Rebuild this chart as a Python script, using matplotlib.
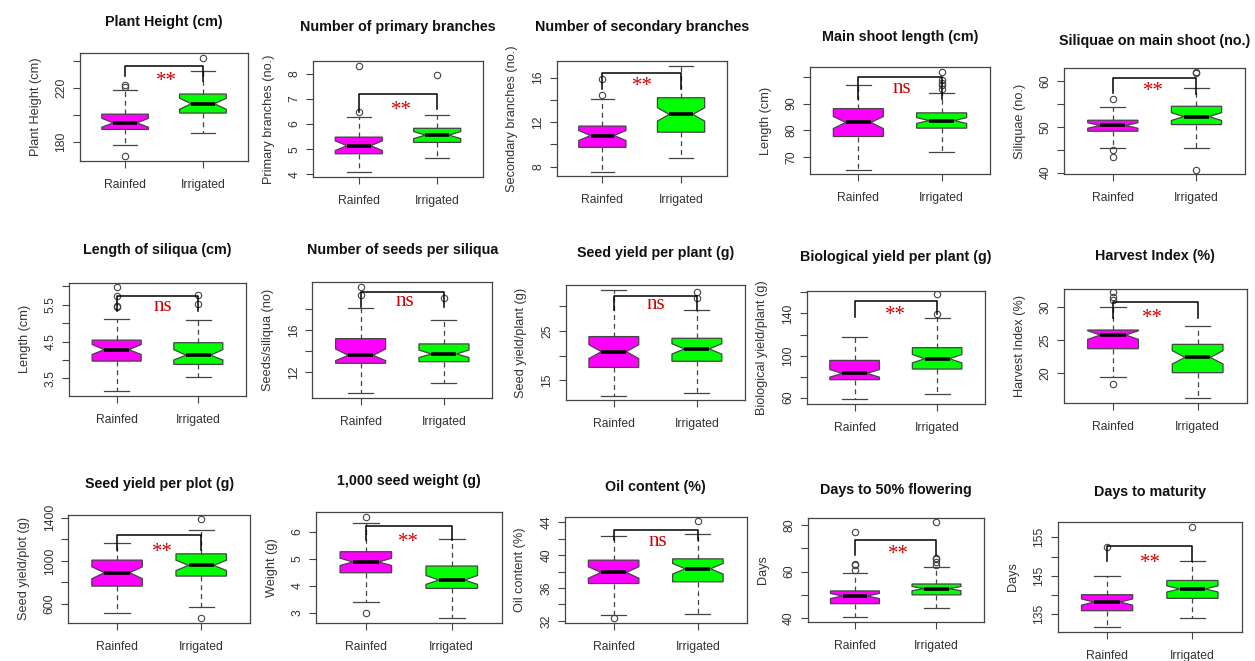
import matplotlib
matplotlib.use('Agg')
import matplotlib.pyplot as plt

plt.rcParams['font.family'] = ['Liberation Sans', 'DejaVu Sans']

W, H = 1255, 661
groups = ['Rainfed', 'Irrigated']
colors = ['#ff00ff', '#00ff00']

titles = ['Plant Height (cm)', 'Number of primary branches', 'Number of secondary branches',
          'Main shoot length (cm)', 'Siliquae on main shoot (no.)',
          'Length of siliqua (cm)', 'Number of seeds per siliqua', 'Seed yield per plant (g)',
          'Biological yield per plant (g)', 'Harvest Index (%)',
          'Seed yield per plot (g)', '1,000 seed weight (g)', 'Oil content (%)',
          'Days to 50% flowering', 'Days to maturity']
ylabels = ['Plant Height (cm)', 'Primary branches (no.)', 'Secondary branches (no.)',
           'Length (cm)', 'Siliquae (no.)',
           'Length (cm)', 'Seeds/siliqua (no)', 'Seed yield/plant (g)',
           'Biological yield/plant (g)', 'Harvest Index (%)',
           'Seed yield/plot (g)', 'Weight (g)', 'Oil content (%)', 'Days', 'Days']
signif = ['**', '**', '**', 'ns', '**',
          'ns', 'ns', 'ns', '**', '**',
          '**', '**', 'ns', '**', '**']

# (lower whisker, Q1, median, Q3, upper whisker)
rainfed_box = [(177.8, 189.4, 194.3, 200.7, 218.3), (4.08, 4.82, 5.14, 5.48, 6.29),
               (7.55, 9.74, 10.8, 11.65, 14.1), (65, 77.6, 82.9, 88.1, 97),
               (45.3, 49.05, 50.3, 51.45, 54.25),
               (3.15, 3.97, 4.28, 4.54, 5.11), (10.05, 12.85, 13.6, 15.18, 18.1),
               (11.9, 17.6, 20.8, 23.85, 33.3), (58.4, 77.1, 83.1, 95.4, 117.9),
               (19.5, 23.7, 25.75, 26.5, 30),
               (514, 766, 890, 1007, 1161), (3.4, 4.48, 4.88, 5.26, 6.31),
               (32.77, 36.55, 37.9, 39.4, 42.3), (40.3, 46.1, 49.4, 51.6, 59.3),
               (131.8, 135.95, 138.2, 140.1, 144.9)]
irrigated_box = [(186.9, 201.5, 208.4, 215.6, 232.8), (4.66, 5.27, 5.56, 5.83, 6.34),
                 (8.78, 11.1, 12.7, 14.2, 17.07), (71.9, 80.75, 83.6, 86.5, 93.9),
                 (45.3, 50.5, 52.25, 54.5, 58.5),
                 (3.54, 3.88, 4.13, 4.47, 5.08), (11.0, 13.0, 13.73, 14.68, 16.95),
                 (12.4, 18.85, 21.35, 23.5, 29.2), (63.2, 87.2, 97, 107.5, 135.3),
                 (16.25, 20.1, 22.4, 24.35, 27.1),
                 (572, 859, 958, 1065, 1284), (2.81, 3.9, 4.21, 4.73, 5.72),
                 (32.8, 36.76, 38.35, 39.56, 42.65), (44.05, 49.9, 52.6, 54.6, 61.9),
                 (134.05, 139.15, 141.6, 143.8, 148.85)]
# notch limits
rainfed_notch = [(191.0, 197.6), (4.95, 5.33), (10.35, 11.25), (80.6, 85.1), (49.7, 50.9),
                 (4.15, 4.42), (13.1, 14.2), (19.4, 22.2), (79.5, 86.7), (25.1, 26.4),
                 (835, 945), (4.75, 5.02), (37.2, 38.6), (48.3, 50.5), (137.4, 139.0)]
irrigated_notch = [(204.3, 212.5), (5.42, 5.70), (12.1, 13.3), (82.5, 84.7), (51.4, 53.1),
                   (4.0, 4.28), (13.4, 14.1), (20.3, 22.4), (93.0, 101.0), (21.4, 23.4),
                   (910, 1006), (4.05, 4.38), (37.7, 39.0), (51.7, 53.5), (140.8, 142.4)]
rainfed_out = [[169.4, 220.7, 222.5], [6.49, 8.3], [14.4, 15.9], [], [43.5, 44.9, 56.1],
               [5.45, 5.48, 5.75, 5.99], [19.27, 20.1], [], [], [18.4, 31.0, 31.5, 32.25],
               [], [2.98, 6.56], [32.3], [60.7, 62.75, 63.2, 77.2], [152.6]]
irrigated_out = [[242.5], [7.95], [], [95.6, 96.9, 97.9, 98.75, 102], [40.6, 61.7, 62.0],
                 [5.52, 5.76], [19.0], [31.75, 32.8], [139.4, 158.4], [],
                 [470, 1386], [], [44.2], [63.0, 64.3, 65.4, 65.9, 81.2], [157.7]]
# bracket: (left leg end, bar height, right leg end)
brackets = [(229, 236.3, 225.4), (6.49, 7.2, 6.58), (14.95, 16.44, 14.95), (91.6, 100, 91.6),
            (57.5, 60.7, 57.2),
            (5.33, 5.73, 5.33), (18.2, 19.6, 18.2), (29.2, 32.1, 29.2), (136.9, 152, 139.4),
            (28.35, 30.7, 28.25),
            (1105, 1244, 1105), (5.69, 6.22, 5.69), (41.8, 43.05, 41.8), (67.1, 73.6, 67.1),
            (148.9, 152.8, 148.9)]
sig_pos = [(1.53, 229), (1.55, 6.75), (1.51, 15.7), (1.52, 95.85), (1.49, 58.93),
           (1.57, 5.45), (1.53, 18.67), (1.50, 30.25), (1.49, 143.3), (1.47, 29.05),
           (1.54, 1128.5), (1.50, 5.82), (1.52, 41.65), (1.53, 69.86), (1.51, 149.7)]
yticks = [[180, 200, 220, 240], [4, 5, 6, 7, 8], [8, 10, 12, 14, 16], [70, 80, 90, 100],
          [40, 45, 50, 55, 60],
          [3.5, 4, 4.5, 5, 5.5, 6], [12, 14, 16, 18], [15, 20, 25, 30],
          [60, 80, 100, 120, 140, 160], [20, 25, 30],
          [600, 800, 1000, 1200, 1400], [3, 4, 5, 6], [32, 34, 36, 38, 40, 42, 44],
          [40, 50, 60, 70, 80], [135, 140, 145, 150, 155]]
ytick_labels = [['180', '', '220', ''], ['4', '5', '6', '7', '8'], ['8', '', '12', '', '16'],
                ['70', '80', '90', ''], ['40', '', '50', '', '60'],
                ['3.5', '', '4.5', '', '5.5', ''], ['12', '', '16', ''], ['15', '', '25', ''],
                ['60', '', '100', '', '140', ''], ['20', '25', '30'],
                ['600', '', '1000', '', '1400'], ['3', '4', '5', '6'],
                ['32', '', '36', '', '40', '', '44'], ['40', '', '60', '', '80'],
                ['135', '', '145', '', '155']]
ylims = [(166, 246), (3.91, 8.5), (7.19, 17.5), (63.5, 103.75), (39.7, 62.8),
         (3.03, 6.1), (9.6, 20.5), (11.0, 34.3), (54, 161.6), (15.6, 32.7),
         (427, 1425), (2.63, 6.72), (31.7, 44.7), (38.3, 83), (130.5, 158.9)]

# panel frames in pixels: left, top, right, bottom ; title centre height
frames = [(80, 53, 248, 161), (313.3, 61, 482.7, 176.7), (556.7, 61, 726.7, 175.7),
          (810, 67, 990, 174), (1064.3, 68.3, 1245, 174),
          (69.3, 282.7, 245.7, 395.7), (312.3, 282.3, 492.3, 397.7), (565.7, 285, 745, 400),
          (806.7, 290.7, 985, 404), (1064, 288.7, 1246.7, 402.7),
          (68.3, 515, 250, 622.7), (316, 512.3, 501.6, 622.7), (564.8, 516.7, 746.7, 623.3),
          (807.6, 518.3, 983.8, 621.7), (1057.6, 522.3, 1241.9, 631.7)]
title_y = [22, 27, 27, 37, 41, 250, 250, 253, 257, 256, 484, 481, 487, 490, 492]

fig = plt.figure(figsize=(W / 100, H / 100), dpi=100)
edge = '#444444'

for i in range(15):
    l, t, r, b = frames[i]
    ax = fig.add_axes([l / W, 1 - b / H, (r - l) / W, (b - t) / H])
    stats = []
    for name, box, notch, out in ((groups[0], rainfed_box[i], rainfed_notch[i], rainfed_out[i]),
                                  (groups[1], irrigated_box[i], irrigated_notch[i], irrigated_out[i])):
        stats.append(dict(label=name, whislo=box[0], q1=box[1], med=box[2], q3=box[3],
                          whishi=box[4], cilo=notch[0], cihi=notch[1], fliers=out))
    bp = ax.bxp(stats, positions=[1, 2], widths=0.6, shownotches=True, patch_artist=True,
                boxprops=dict(edgecolor=edge, linewidth=0.9),
                whiskerprops=dict(color=edge, linestyle=(0, (4, 3)), linewidth=0.9),
                capprops=dict(color=edge, linewidth=0.9),
                medianprops=dict(color='black', linewidth=2.6),
                flierprops=dict(marker='o', markerfacecolor='none', markeredgecolor=edge,
                                markersize=4.6, markeredgewidth=0.8))
    for patch, c in zip(bp['boxes'], colors):
        patch.set_facecolor(c)

    lft, top, rgt = brackets[i]
    ax.plot([1, 1, 2, 2], [lft, top, top, rgt], color='black', linewidth=1.1, zorder=5)
    # asterisks sit high in the font, so pull them down a little
    drop = -4 if signif[i] == '**' else 0
    ax.annotate(signif[i], sig_pos[i], xytext=(0, drop), textcoords='offset points',
                color='#d00000', fontsize=15, family=['Liberation Serif', 'DejaVu Serif'],
                ha='center', va='center', zorder=6)

    ax.set_xlim(0.42, 2.58)
    ax.set_ylim(*ylims[i])
    ax.set_xticks([1, 2])
    ax.set_xticklabels(groups)
    ax.set_yticks(yticks[i])
    ax.set_yticklabels(ytick_labels[i])
    ax.tick_params(axis='x', length=5, width=0.8, color=edge, labelsize=8.7,
                   labelcolor='#333333', pad=8)
    ax.tick_params(axis='y', length=5, width=0.8, color=edge, labelsize=8.7,
                   labelcolor='#333333', pad=4, labelrotation=90)
    for lbl in ax.get_yticklabels():
        lbl.set_va('center')
    for s in ax.spines.values():
        s.set_color(edge)
        s.set_linewidth(0.9)
    ax.set_ylabel(ylabels[i], fontsize=9.2, color='#333333', labelpad=10)
    fig.text((l + r) / 2 / W, 1 - title_y[i] / H, titles[i], ha='center', va='center',
             fontsize=10.3, fontweight='bold', color='#111111')

fig.savefig('out.png', dpi=100)
